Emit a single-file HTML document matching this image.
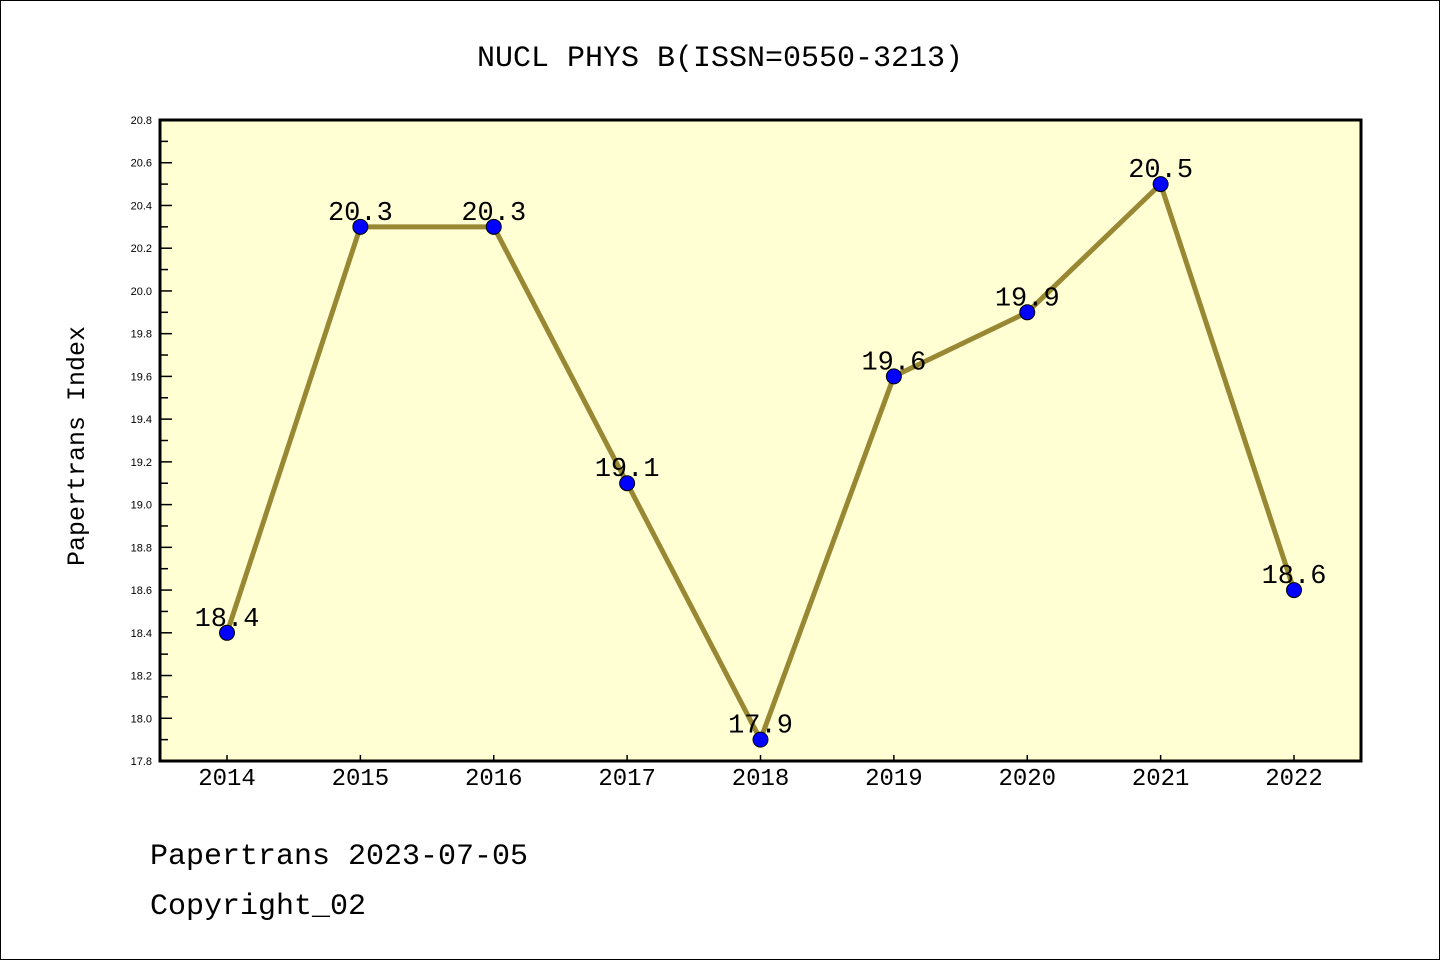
<!DOCTYPE html>
<html><head><meta charset="utf-8"><style>
html,body{margin:0;padding:0;background:#fff}
svg{display:block}
text{font-family:"Liberation Mono","WenQuanYi Zen Hei",monospace}
.sans{font-family:"Liberation Sans",sans-serif}
</style></head><body>
<svg id="chart" width="1440" height="960" xmlns="http://www.w3.org/2000/svg">
<rect x="0.5" y="0.5" width="1439" height="959" fill="#fff" stroke="#000"/>
<text x="720" y="66" font-size="30" text-anchor="middle">NUCL PHYS B(ISSN=0550-3213)</text>
<rect x="160" y="120" width="1201" height="641" fill="#ffffd3"/>
<g id="axes"></g>
<g id="series"></g>
<rect x="160" y="120" width="1201" height="641" fill="none" stroke="#000" stroke-width="3"/>
<text transform="translate(84,446) rotate(-90)" font-size="25" text-anchor="middle">Papertrans Index</text>
<text x="150" y="864" font-size="30">Papertrans 2023-07-05</text>
<text x="150" y="914" font-size="30">Copyright_02</text>
</svg>
<script>
const years = ['2014','2015','2016','2017','2018','2019','2020','2021','2022'];
const values = [18.4,20.3,20.3,19.1,17.9,19.6,19.9,20.5,18.6];
const valueLabels = ['18.4','20.3','20.3','19.1','17.9','19.6','19.9','20.5','18.6'];
const yTicks = ['17.8','18.0','18.2','18.4','18.6','18.8','19.0','19.2','19.4','19.6','19.8','20.0','20.2','20.4','20.6','20.8'];
const NS='http://www.w3.org/2000/svg';
const yMin=17.8,yMax=20.8,plotTop=120,plotBot=761;
const yScale=v=>plotBot-(v-yMin)/(yMax-yMin)*(plotBot-plotTop);
const xScale=i=>227+i*(1294-227)/(years.length-1);
function mk(tag,attrs,parent){const e=document.createElementNS(NS,tag);for(const k in attrs)e.setAttribute(k,attrs[k]);parent.appendChild(e);return e;}
const ax=document.getElementById('axes'),se=document.getElementById('series');
yTicks.forEach((t,i)=>{
  const yy=yScale(parseFloat(t));
  const l=mk('line',{x1:160,x2:172,y1:yy,y2:yy,stroke:'#000','stroke-width':1.5},ax);
  
  
  const tx=mk('text',{x:152,y:yy+4,'font-size':11,'text-anchor':'end','class':'sans'},ax);
  tx.textContent=t;
  
  
  if(i<yTicks.length-1){
    const ym=yScale(parseFloat(t)+0.1);
    const m=mk('line',{x1:160,x2:168,y1:ym,y2:ym,stroke:'#000','stroke-width':1.5},ax);
    
    
  }
});
years.forEach((yr,i)=>{
  const l=mk('line',{x1:xScale(i),x2:xScale(i),y1:755,y2:761,stroke:'#000','stroke-width':1.5},ax);
  
  
  const t=mk('text',{x:xScale(i),y:785,'font-size':24,'text-anchor':'middle'},ax);
  t.textContent=yr;
  
  
});
const pl=mk('polyline',{points:values.map((v,i)=>xScale(i)+','+yScale(v)).join(' '),fill:'none',stroke:'#998833','stroke-width':5,'stroke-linejoin':'round'},se);


values.forEach((v,i)=>{
  const c=mk('circle',{cx:xScale(i),cy:yScale(v),r:7.5,fill:'#0000ff',stroke:'#000','stroke-width':1},se);
  
  
  const t=mk('text',{x:xScale(i),y:yScale(v)-7,'font-size':27,'text-anchor':'middle'},se);
  t.textContent=valueLabels[i];
  
  
});
</script>
</body></html>
